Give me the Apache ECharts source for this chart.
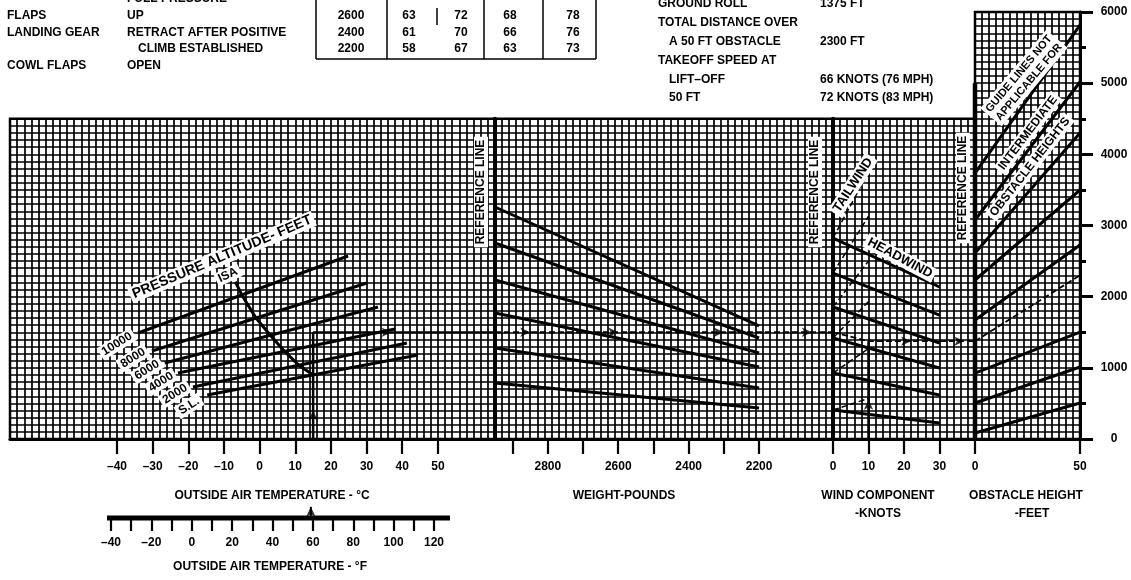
<!DOCTYPE html>
<html><head><meta charset="utf-8">
<script src="https://cdn.jsdelivr.net/npm/echarts@6/dist/echarts.min.js"></script>
<style>html,body{margin:0;padding:0;background:#fff}#c{width:1131px;height:580px}</style>
</head><body><div id="c"></div>
<script>
// ---------------- DATA ----------------
const tempTicksC = [-40,-30,-20,-10,0,10,20,30,40,50];
const tempLabelsF = [-40,-20,0,20,40,60,80,100,120];
const weightLabels = [2800,2600,2400,2200];
const distanceLabels = [0,1000,2000,3000,4000,5000,6000];

// pressure altitude lines (temperature °C -> intermediate distance ft)
const altitudeNames = ['10000','8000','6000','4000','2000','S.L.'];
const altitudeStartC = [-34.1,-30.2,-26.6,-22.9,-18.7,-14.7];
const altitudeEndC   = [24.8,30.1,33.2,38.0,41.3,44.4];
const altitudeStartFt = [1489,1237,1068,927,730,618];
const altitudeEndFt   = [2571,2192,1855,1546,1349,1180];

// ISA line
const isaC  = [-6.8,-5,-1,3,7,11,15];
const isaFt = [2210,2024,1699,1458,1231,1036,900];

// weight guide lines
const weightRefLb = 2950;
const weightEndLb = 2200;
const weightRefFt = [3260,2754,2234,1770,1279,787];
const weightEndFt = [1588,1419,1208,1012,717,436];

// wind guide lines
const headwindMaxKt = 30;
const windRefFt    = [2824,2332,1855,1419,927,407];
const headwind30Ft = [2136,1742,1349,998,618,225];
const tailwindMaxKt = 10;
const tailwind10Ft = [3750,3130,2500,1930,1270,570];

// obstacle guide lines
const obstacleMaxFt = 50;
const obstacleRefFt = [3737,3077,2613,2234,1672,927,506,84];
const obstacle50Ft  = [5817,5016,4300,3499,2726,1503,1012,506];
const obstacleRefTopFt = 5000;

// worked example
const exOATc = 15;
const exOATf = 59;
const exPathFt = 1500;
const exHeadwindKt = 10;
const exGroundRollFt = 1375;
const exTotalFt = 2300;
const exArrowsC = [37];
const exArrowsLb = [2850,2600,2300,2050];
const exArrowsKt = [22,37];

// header table
const tableRows = [
  ['2600','63','72','68','78'],
  ['2400','61','70','66','76'],
  ['2200','58','67','63','73']
];

// ---------------- LAYOUT ----------------
const FONT = '"Liberation Sans", Arial, sans-serif';
const Y0 = 439, Y6000 = 12;
const ftPx = (Y0 - Y6000) / 6000;
const panelTop = Y0 - 4500 * ftPx;
const panelH = 4500 * ftPx;
const TEMP_MIN = -70, TEMP_MAX = 66;
const WT_MIN = 1990, WT_MAX = 2950;
const WIND_MAX = 40;

const chart = echarts.init(document.getElementById('c'));

const gridLine = {show:true, lineStyle:{color:'#000', width:1.7}};
function panelX(gi, min, max, interval, extra){
  return Object.assign({type:'value', gridIndex:gi, min, max, interval,
    axisLine:{show:true, onZero:false, lineStyle:{color:'#000', width:3}},
    axisTick:{show:false}, axisLabel:{show:false}, splitLine:gridLine}, extra||{});
}
function panelY(gi, max, lw){
  return {type:'value', gridIndex:gi, min:0, max, interval:100, position:'left',
    axisLine:{show:lw>0, onZero:false, lineStyle:{color:'#000', width:lw}},
    axisTick:{show:false}, axisLabel:{show:false}, splitLine:gridLine};
}
const lblStyle = {show:true, color:'#000', fontFamily:FONT, fontWeight:'bold', fontSize:12};
function tickX(gi, min, max, interval, fmt, extra, tl, mg){
  return Object.assign({type:'value', gridIndex:gi, min, max, interval, position:'bottom',
    axisLine:{show:false, onZero:false},
    axisTick:{show:true, length:tl||15, lineStyle:{color:'#000', width:2.2}},
    axisLabel:Object.assign({margin:mg||22, formatter:fmt}, lblStyle),
    splitLine:{show:false}}, extra||{});
}
const dash = v => (v < 0 ? '\u2013' + (-v) : '' + v);

const xAxis = [
  panelX(0, TEMP_MIN, TEMP_MAX, 2),
  panelX(1, WT_MIN, WT_MAX, 20, {inverse:true}),
  panelX(2, 0, WIND_MAX, 2),
  panelX(3, 0, obstacleMaxFt, 10/3),
  tickX(4, tempTicksC[0], tempTicksC[tempTicksC.length-1], 10, v => tempTicksC.includes(v) ? dash(v) : ''),
  tickX(5, weightEndLb, 2900, 100, v => weightLabels.includes(v) ? '' + v : '', {inverse:true}),
  tickX(6, 0, headwindMaxKt, 10, v => '' + v),
  tickX(7, 0, obstacleMaxFt, 50, v => '' + v),
  tickX(8, -40, 120, 10, v => tempLabelsF.includes(v) ? dash(v) : '', null, 13, 19)
];
const yAxis = [
  panelY(0, 4500, 0),
  panelY(1, 4500, 4),
  panelY(2, 4500, 4),
  panelY(3, 6000, 2),
  {type:'value', gridIndex:3, min:0, max:6000, interval:1000, position:'right',
    axisLine:{show:true, onZero:false, lineStyle:{color:'#000', width:3}},
    axisTick:{show:true, length:13, lineStyle:{color:'#000', width:3}},
    minorTick:{show:true, splitNumber:2, length:6, lineStyle:{color:'#000', width:3}},
    axisLabel:Object.assign({margin:34, align:'center', formatter:v => distanceLabels.includes(v) ? '' + v : ''}, lblStyle),
    splitLine:{show:false}},
  {type:'value', gridIndex:4, show:false, min:0, max:1},
  {type:'value', gridIndex:5, show:false, min:0, max:1},
  {type:'value', gridIndex:6, show:false, min:0, max:1},
  {type:'value', gridIndex:7, show:false, min:0, max:1},
  {type:'value', gridIndex:8, show:false, min:0, max:1}
];
const gb = {show:true, borderColor:'#000', borderWidth:2.5, backgroundColor:'#fff'};
const grid = [
  Object.assign({left:10, top:panelTop, width:485, height:panelH}, gb),
  Object.assign({left:495, top:panelTop, width:338, height:panelH}, gb),
  Object.assign({left:833, top:panelTop, width:142, height:panelH}, gb),
  Object.assign({left:975, top:Y6000, width:105, height:Y0 - Y6000}, gb),
  {left:117, top:Y0 - 1, width:320.9, height:1},
  {left:495 + (WT_MAX - 2900) * 338 / (WT_MAX - WT_MIN), top:Y0 - 1, width:700 * 338 / (WT_MAX - WT_MIN), height:1},
  {left:833, top:Y0 - 1, width:30 * 142 / WIND_MAX, height:1},
  {left:975, top:Y0 - 1, width:105, height:1},
  {left:111, top:504, width:323, height:14}
];

const series = [];
function line(xi, yi, data, w, dashed){
  series.push({type:'line', xAxisIndex:xi, yAxisIndex:yi, data, symbol:'none', silent:true,
    lineStyle:{color:'#000', width:w, type: dashed ? [6,3] : 'solid', cap:'butt'}, z:5});
}
function arrows(xi, yi, data, rot){
  series.push({type:'scatter', xAxisIndex:xi, yAxisIndex:yi, data, symbol:'arrow', symbolSize:[7,10],
    symbolRotate:rot, itemStyle:{color:'#000'}, silent:true, z:6});
}
altitudeNames.forEach((n, i) => line(0, 0, [[altitudeStartC[i], altitudeStartFt[i]], [altitudeEndC[i], altitudeEndFt[i]]], 3));
line(0, 0, isaC.map((c, i) => [c, isaFt[i]]), 3);
weightRefFt.forEach((f, i) => line(1, 1, [[weightRefLb, f], [weightEndLb, weightEndFt[i]]], 3));
windRefFt.forEach((f, i) => line(2, 2, [[0, f], [headwindMaxKt, headwind30Ft[i]]], 3));
windRefFt.forEach((f, i) => line(2, 2, [[0, f], [tailwindMaxKt, tailwind10Ft[i]]], 1.5, true));
obstacleRefFt.forEach((f, i) => line(3, 3, [[0, f], [obstacleMaxFt, obstacle50Ft[i]]], 3));
line(3, 3, [[0, 0], [0, obstacleRefTopFt]], 4.5);
// example
line(0, 0, [[exOATc, 0], [exOATc, exPathFt]], 2.5);
line(0, 0, [[exOATc, exPathFt], [TEMP_MAX, exPathFt]], 2);
line(1, 1, [[WT_MAX, exPathFt], [WT_MIN, exPathFt]], 1.8, true);
line(2, 2, [[0, exPathFt], [exHeadwindKt, exGroundRollFt], [WIND_MAX, exGroundRollFt]], 1.8, true);
line(2, 2, [[exHeadwindKt, 0], [exHeadwindKt, exGroundRollFt]], 2.5);
line(3, 3, [[0, exGroundRollFt], [obstacleMaxFt, exTotalFt]], 1.8, true);
arrows(0, 0, exArrowsC.map(c => [c, exPathFt]), -90);
arrows(0, 0, [[exOATc, 400]], 0);
arrows(1, 1, exArrowsLb.map(w => [w, exPathFt]), -90);
arrows(2, 2, exArrowsKt.map(k => [k, exGroundRollFt]), -90);
arrows(2, 2, [[exHeadwindKt, 550]], 0);
line(8, 9, [[exOATf, 0], [exOATf, 0.8]], 2);
arrows(8, 9, [[exOATf, 0.8]], 0);

// ---------------- TEXT ----------------
function txt(text, x, y, o){
  o = o || {};
  const size = o.size || 12, align = o.align || 'left';
  const style = {text, fill:'#000', font:'bold ' + size + 'px ' + FONT, align, verticalAlign:'middle',
    textAlign:align, textVerticalAlign:'middle'};
  if (o.lh) style.lineHeight = o.lh;
  if (o.bg) { style.backgroundColor = '#fff'; style.padding = [1, 3]; }
  return {type:'text', x, y, rotation:(o.rot || 0) * Math.PI / 180, z:100, silent:true, style};
}
function ln(x1, y1, x2, y2, w){
  return {type:'line', z:100, silent:true, shape:{x1, y1, x2, y2}, style:{stroke:'#000', lineWidth:w || 1.5}};
}
const graphic = [];
// header left
graphic.push(txt('FULL PRESSURE', 127, -1));
graphic.push(txt('FLAPS', 7, 15.5), txt('UP', 127, 15.5));
graphic.push(txt('LANDING GEAR', 7, 32.5), txt('RETRACT AFTER POSITIVE', 127, 32.5));
graphic.push(txt('CLIMB ESTABLISHED', 138, 49));
graphic.push(txt('COWL FLAPS', 7, 66), txt('OPEN', 127, 66));
// table
graphic.push(ln(316, 0, 316, 59), ln(316, 59, 596, 59), ln(596, 0, 596, 59));
graphic.push(ln(387, 0, 387, 59), ln(484, 0, 484, 59), ln(543, 0, 543, 59), ln(437, 8, 437, 25));
const colX = [351, 409, 461, 510, 573];
tableRows.forEach((r, ri) => r.forEach((c, ci) => graphic.push(txt(c, colX[ci], 15.5 + ri * 16.8, {align:'center'}))));
// header right
graphic.push(txt('GROUND ROLL', 658, 4), txt('1375 FT', 820, 4));
graphic.push(txt('TOTAL DISTANCE OVER', 658, 23));
graphic.push(txt('A 50 FT OBSTACLE', 669, 42), txt('2300 FT', 820, 42));
graphic.push(txt('TAKEOFF SPEED AT', 658, 61));
graphic.push(txt('LIFT\u2013OFF', 669, 80), txt('66 KNOTS (76 MPH)', 820, 80));
graphic.push(txt('50 FT', 669, 98), txt('72 KNOTS (83 MPH)', 820, 98));
// in-chart labels
graphic.push(txt('PRESSURE ALTITUDE- FEET', 222, 257, {align:'center', rot:23, size:14, bg:true}));
graphic.push(txt('ISA', 228, 275, {align:'center', rot:25, bg:true}));
const altLabelPos = [[117,344],[133,358],[147,370],[161,382],[175,394],[189,406]];
altitudeNames.forEach((n, i) => graphic.push(txt(n, altLabelPos[i][0], altLabelPos[i][1], {align:'center', rot:32, bg:true})));
graphic.push(txt('REFERENCE LINE', 481, 192, {align:'center', rot:90, bg:true}));
graphic.push(txt('REFERENCE LINE', 815, 192, {align:'center', rot:90, bg:true}));
graphic.push(txt('REFERENCE LINE', 963, 188, {align:'center', rot:90, bg:true}));
graphic.push(txt('TAILWIND', 853, 185, {align:'center', rot:57, size:13, bg:true}));
graphic.push(txt('HEADWIND', 900, 258, {align:'center', rot:-28, size:13, bg:true}));
graphic.push(txt('GUIDE LINES NOT\nAPPLICABLE FOR', 1024, 78, {align:'center', rot:50, size:11, lh:13, bg:true}));
graphic.push(txt('INTERMEDIATE', 1028, 133, {align:'center', rot:53, size:12, bg:true}));
graphic.push(txt('OBSTACLE HEIGHTS', 1030, 167, {align:'center', rot:52, size:12, bg:true}));
// axis titles
graphic.push(txt('OUTSIDE AIR TEMPERATURE - \u00B0C', 272, 496, {align:'center'}));
graphic.push(txt('WEIGHT-POUNDS', 624, 496, {align:'center'}));
graphic.push(txt('WIND COMPONENT', 878, 496, {align:'center'}), txt('-KNOTS', 878, 514, {align:'center'}));
graphic.push(txt('OBSTACLE HEIGHT', 1026, 496, {align:'center'}), txt('-FEET', 1032, 514, {align:'center'}));
graphic.push(txt('OUTSIDE AIR TEMPERATURE - \u00B0F', 270, 567, {align:'center'}));
graphic.push({type:'rect', z:100, silent:true, shape:{x:107, y:515.5, width:343, height:5}, style:{fill:'#000'}});

chart.setOption({animation:false, backgroundColor:'#fff', grid, xAxis, yAxis, series, graphic});
</script></body></html>
